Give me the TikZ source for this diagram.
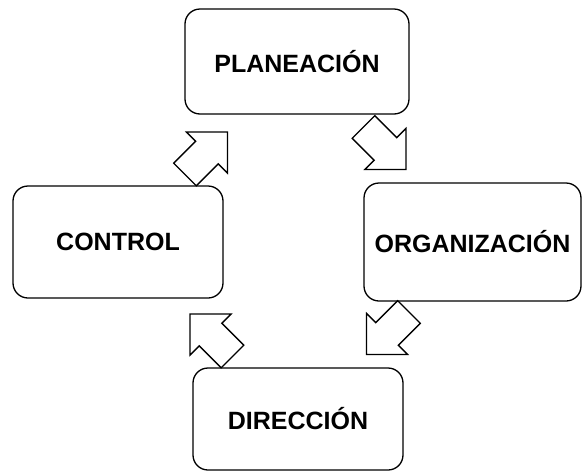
\documentclass[tikz,border=0pt]{standalone}
\usepackage{fontspec}
\setmainfont{Liberation Sans}
\begin{document}
\begin{tikzpicture}[x=1pt,y=-1pt,
    etapa/.style={draw, line width=1.3pt, rounded corners=15pt, inner sep=0pt,
                  font=\fontsize{25}{30}\selectfont\bfseries},
    flecha/.style={draw, fill=white, line width=1.3pt, line join=miter},
    bloque/.pic={\draw[flecha] (0,-16) -- (31,-16) -- (31,-29) -- (60,0) -- (31,29) -- (31,16) -- (0,16) -- cycle;}]
        \useasboundingbox (0,0) rectangle (582,472);

        % etapas del proceso
        \node[etapa, minimum width=224pt, minimum height=105pt] (planeacion) at (297,61.5) {PLANEACIÓN};
        \node[etapa, minimum width=217pt, minimum height=118pt] (organizacion) at (472.5,242) {ORGANIZACIÓN};
        \node[etapa, minimum width=210pt, minimum height=102pt] (direccion) at (298,419) {DIRECCIÓN};
        \node[etapa, minimum width=210pt, minimum height=112pt] (control) at (118,242) {CONTROL};

        % flechas de bloque
        \pic[rotate=-45] at (363.5,127) {bloque};
        \pic[rotate=-135] at (409,312) {bloque};
        \pic[rotate=135] at (232.5,356.5) {bloque};
        \pic[rotate=45] at (185,174.5) {bloque};
\end{tikzpicture}
\end{document}
